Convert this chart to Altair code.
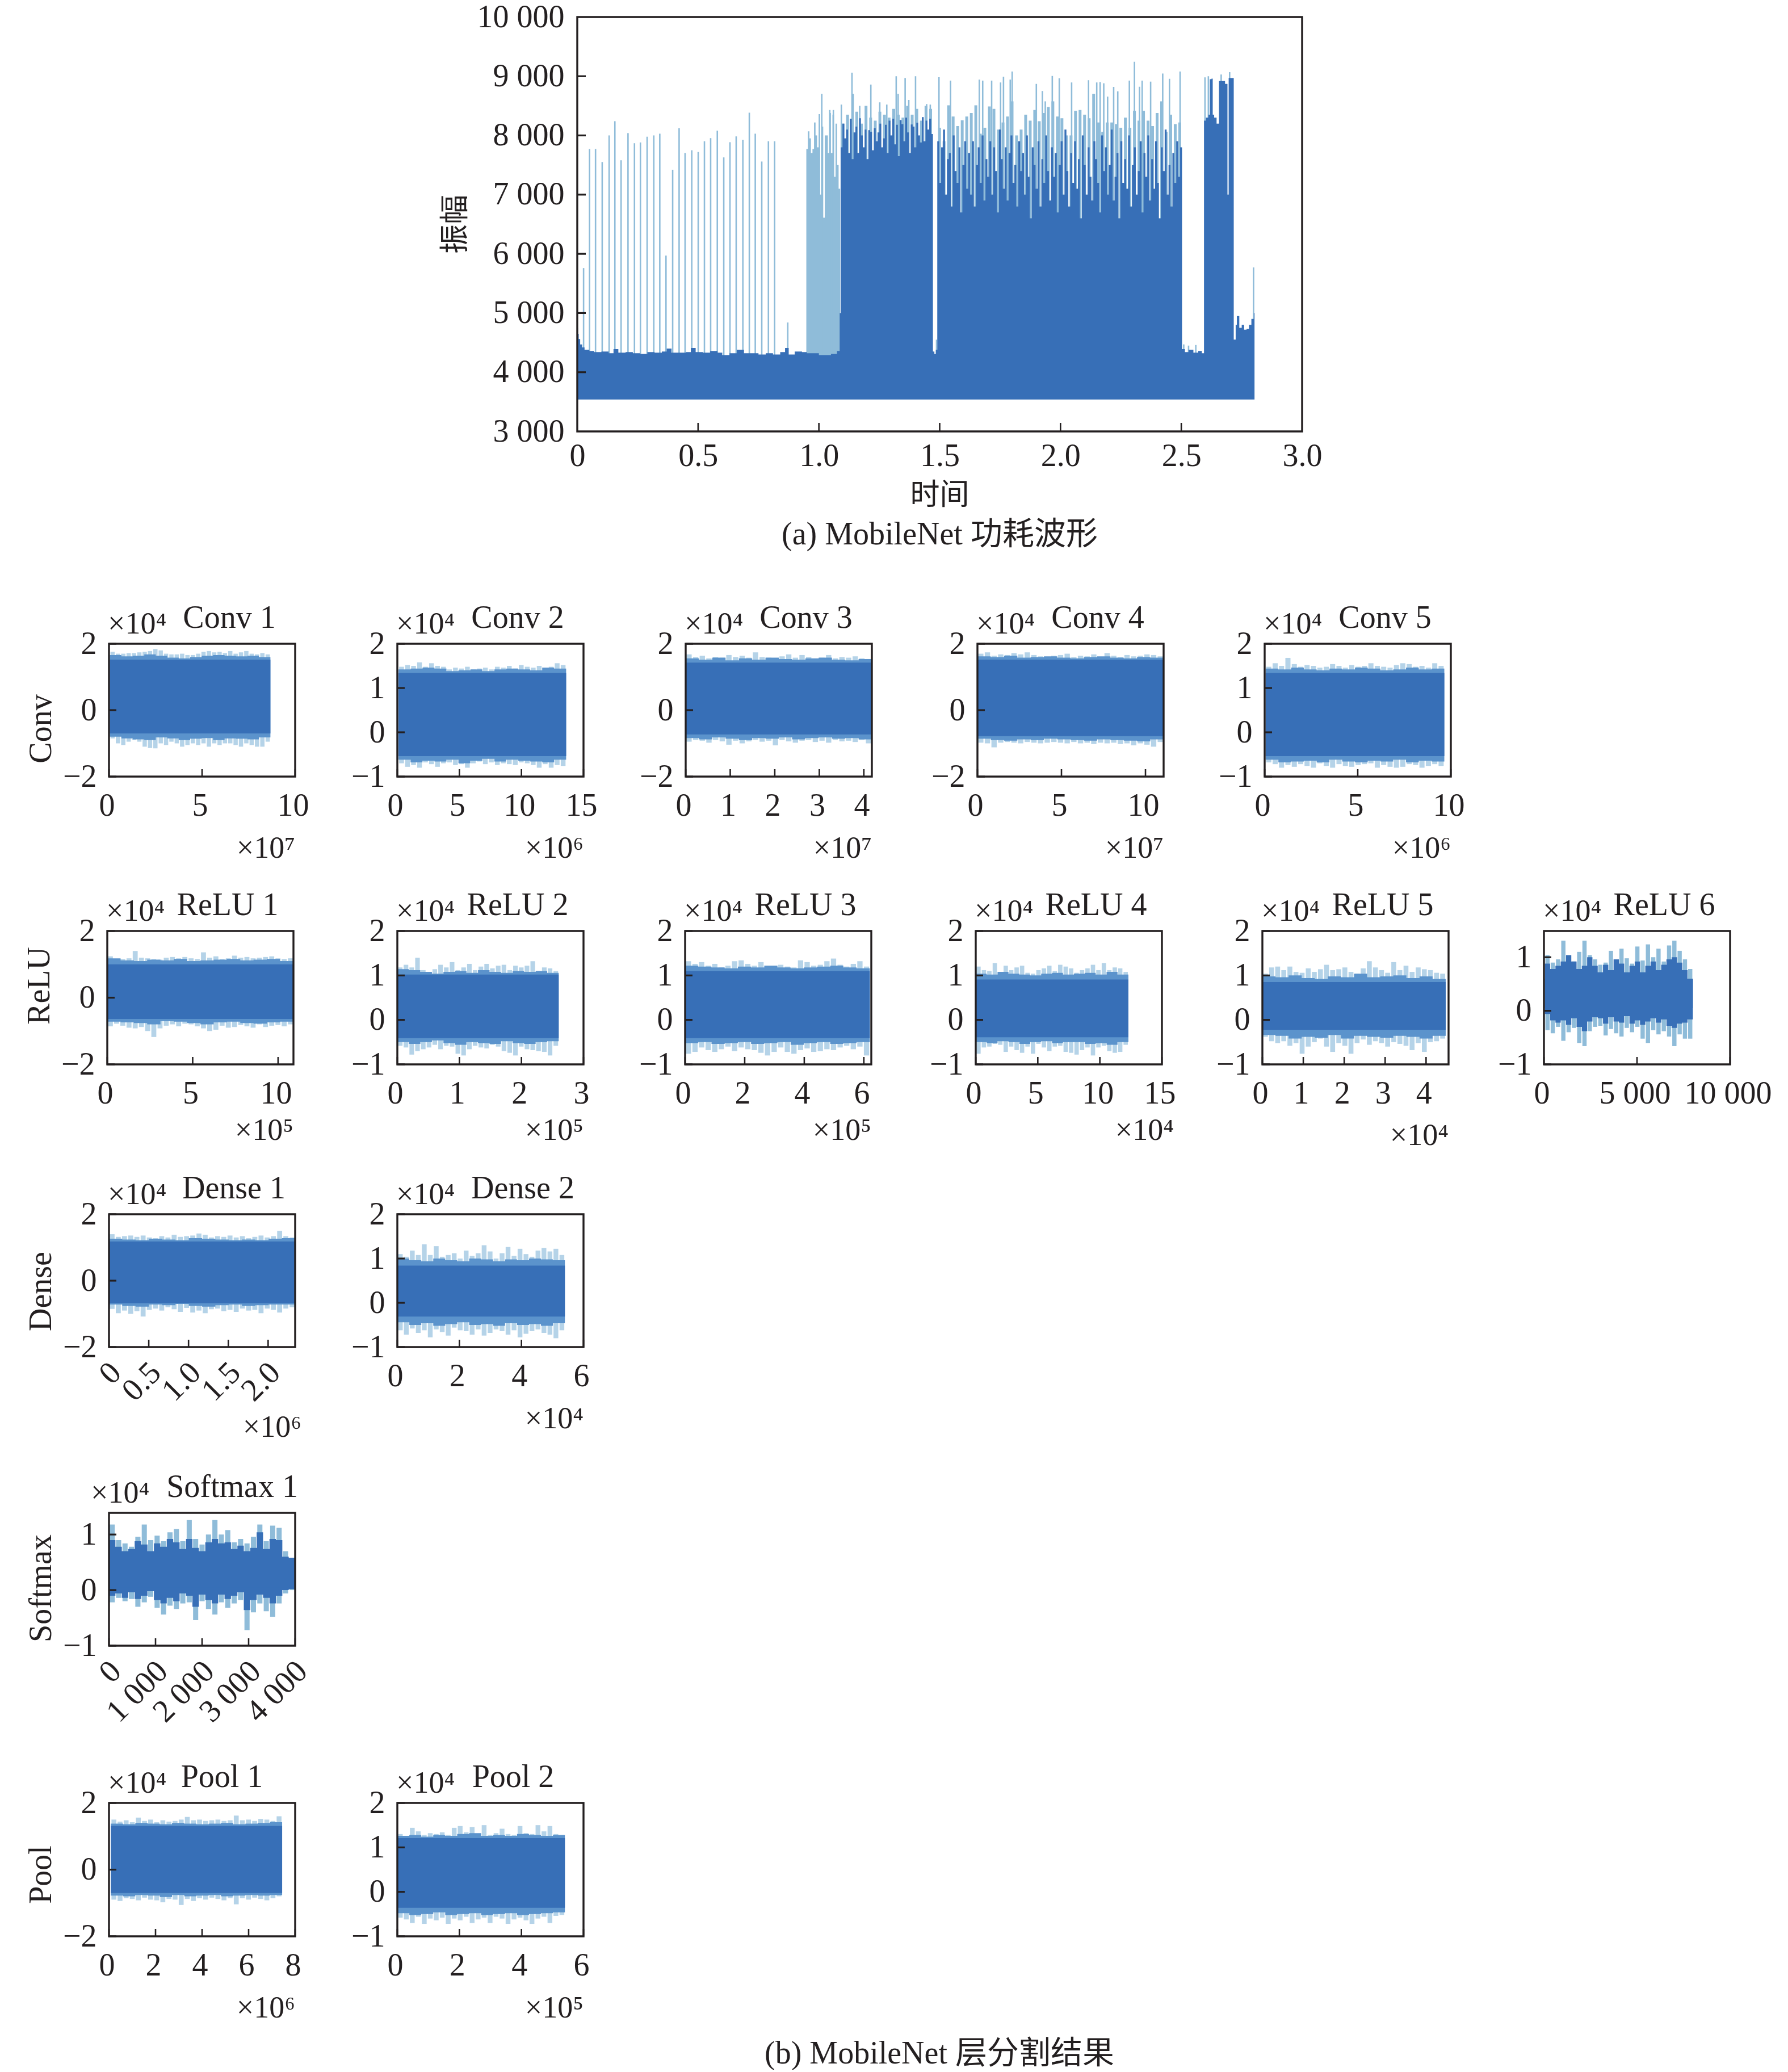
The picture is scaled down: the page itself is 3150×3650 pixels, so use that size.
import numpy as np
import pandas as pd
import altair as alt

FONT = "Liberation Serif, Noto Sans CJK SC"
DARK, MID, LIGHT, PALE = "#376FB7", "#5B93CC", "#8FBCD9", "#B5D3E8"
FS = 56

# ---------- main waveform ----------
ENV_X = [0,.003,.006,.012,.02,.03,.05,.07,.10,.13,.15,.17,.2,.23,.26,.29,.32,.35,.37,.39,.42,.45,.47,.49,.52,.55,.58,.6,.63,.66,.69,.72,.75,.78,.81,.84,.86,.875,.90,.93,.95,1.0,1.05,1.075,1.086]
ENV_TOP = [4750,4650,4560,4470,4420,4380,4360,4340,4350,4320,4390,4330,4340,4320,4310,4340,4330,4350,4400,4330,4330,4340,4410,4340,4330,4360,4330,4290,4320,4380,4320,4320,4300,4320,4300,4340,4410,4300,4350,4340,4320,4290,4310,4360,5000]
SEC_A_TOP = [7800,8200,7950,8100,7700,8280,7600,8050,8150,7700,8290,8000,7800,8100,7600,8090,8060,7750,8120,7900,8050,8200,7800,7950,8180,7700,8250,8000,8280,7850,8180,7650,8260,8190,7900,8300,8050,7700,8185,8150,7800,8215,8000,7880,8310,7900,8250,8100,8280,8025]
BAND_A_TOP = [8200,8350,8250,8400,8200,8500,8300,8250,8400,8350,8300,8450,8350,8300,8500,8350,8450,8250,8500,8450]
GAP1_X = [1.472,1.478,1.484]
GAP1_TOP = [4350,4310,4380]
GAP2_X = [2.503,2.515,2.53,2.55,2.57,2.585]
GAP2_TOP = [4390,4340,4380,4330,4360,4320]
SEC_C_X = [2.594,2.602,2.612,2.618,2.625,2.63,2.636,2.646,2.656,2.681,2.691,2.696,2.717,2.725,2.73,2.74,2.75,2.76,2.77,2.78,2.79,2.80]
SEC_C_TOP = [8250,8300,8350,8950,8960,8350,8300,8200,8920,8870,7000,8970,4550,4800,4950,4750,4800,4720,4730,4800,4900,5000]
BAND_B_TOP = [8130,7900,8510,8320,8160,8255,8320,8380,8510,8030,8130,8490,8450,8100,8220,8320,8575,8000,8100,8350,8250,8430,8240,8380,8480,8575,8320,8290,8000,8000,8415,8430,8350,8290,8700,8220,8060,8220,8220,8190,8130,8300,8130,8415,8250,8415,8250,8160,8380,8575,8060,8350,8190,8220]
STRIPES_B = [7900,7200,7800,8100,7000,7600,7700,6800,8000,7400,7200,7800,6700,7500,7900,7100,7700,7000,7900,6800,7500,7800,7200,8000,6900,7600,7300,7900,7000,7800,7400,6700,8100,7600,7100,7800,6900,7700,8000,7200,7500,6800,7900,7400,7700,7000,8000,7300,6600,7800,7500,7100,7900,6800,7600,7200,8000,7400,6900,7800,7300,7700,6700,7500,7900,7000,8100,7400,6800,7700,7200,7900,7100,7600,6600,8000,7500,7000,7800,7300,6900,7900,7600,7200,6700,8000,7400,7800,7000,7500,8100,6900,7300,7700,6600,7900,7200,7600,7100,8000,6800,7500,7800,7000,7400,7900,6700,7700,7300,8000,6900,7600,7100,7900,7200,6600,7800,7400,8100,7000,7500,6800,7700,7200,7900,7300,7800]
BLOCK_TOP = [7770,8070,7950,7700,7770,8220,8000,7800,8360,7000,8150,6610,8000,8000,7700,8380,7700,8350,7300,8200,7500,7100]
SPIKE_X = [.0261,.0508,.0756,.1032,.1319,.1556,.1813,.2100,.2367,.2614,.2891,.3167,.3415,.3672,.3948,.4215,.4462,.4739,.5006,.5263,.5520,.5796,.6063,.6320,.6577,.6854,.7121,.7367,.7636,.7911,.8168,.8712,
           1.012,1.045,1.06,1.093,1.137,1.142,1.169,1.215,1.252,1.281,1.32,1.328,1.357,1.372,1.40,1.446,1.461,1.487,
           1.497,1.545,1.664,1.678,1.715,1.752,1.764,1.792,1.800,1.900,1.925,1.937,1.966,1.995,2.046,2.116,2.150,2.164,2.179,2.195,2.220,2.237,2.285,2.306,2.327,2.338,2.373,2.423,2.451,2.495,
           2.51,2.53,2.56,2.598,2.612,2.665,2.70,2.799]
SPIKE_TOP = [5760,7770,7770,7550,8000,8240,7580,8040,7870,7880,7980,8000,8030,5970,7420,8120,7700,7750,7720,7900,7955,8080,7630,7885,7985,7925,8385,8030,7560,7900,7900,4840,
             8700,8430,8430,8520,9060,8700,8500,8860,8560,8520,9000,8700,8970,8600,9000,8530,8520,4550,
             8984,8927,8942,8927,8927,8895,8990,8942,9080,8870,8750,8575,9006,8965,8895,8933,8895,8900,8880,8655,8820,8744,8927,9246,8824,8927,8910,9045,8958,9080,
             4470,4450,4460,8980,9000,9030,9070,5770]
MAIN_XT = [0,.5,1,1.5,2,2.5,3]
MAIN_YT = [3000,4000,5000,6000,7000,8000,9000,10000]

# ---------- layer panels (values ×10^2 of the axis unit) ----------
CONV1_TOP=[176,170,170,172,172,174,176,178,184,180,170,168,168,170,166,166,170,176,178,174,176,172,178,170,174,178,170,168,172,168]
CONV1_BOT=[-85,-100,-105,-95,-90,-95,-110,-114,-115,-100,-105,-95,-100,-110,-105,-100,-105,-100,-110,-100,-105,-100,-100,-105,-110,-100,-105,-110,-110,-95]
CONV1_MT=[166,162,164,168,164,158,156,160,164,166,164,162,164,160]
CONV1_MB=[-80,-85,-88,-90,-82,-85,-90,-86,-84,-90,-85,-86,-88,-82]
CONV2_TOP=[148,152,150,158,148,156,150,148,142,146,144,148,142,144,146,142,148,146,150,144,152,148,146,150,146,148,156,152]
CONV2_BOT=[-70,-78,-74,-80,-68,-72,-78,-70,-68,-74,-72,-80,-70,-66,-72,-68,-74,-70,-72,-74,-68,-70,-74,-80,-72,-80,-74,-76]
CONV2_MT=[142,144,146,144,138,140,142,138,142,144,142,140,146,144]
CONV2_MB=[-62,-68,-64,-66,-62,-70,-64,-60,-66,-62,-64,-66,-68,-62]
CONV3_TOP=[168,160,164,156,160,158,166,160,164,158,174,160,158,156,162,168,158,166,160,154,158,166,156,160,158,162,156,154]
CONV3_BOT=[-95,-90,-92,-98,-90,-94,-104,-92,-100,-94,-90,-95,-92,-106,-90,-94,-98,-92,-90,-96,-92,-98,-90,-94,-92,-96,-90,-100]
CONV3_MT=[156,152,158,150,156,152,158,154,152,156,158,152,150,154]
CONV3_MB=[-84,-88,-82,-86,-90,-84,-86,-82,-88,-84,-82,-86,-84,-88]
CONV4_TOP=[170,174,164,168,166,172,168,174,166,162,160,164,166,170,160,164,162,168,160,172,164,160,166,162,164,168,166,162]
CONV4_BOT=[-98,-100,-112,-98,-96,-98,-100,-96,-98,-100,-98,-96,-98,-100,-96,-100,-98,-102,-98,-100,-98,-102,-100,-106,-100,-104,-110,-96]
CONV4_MT=[162,160,164,158,160,162,158,156,160,162,158,156,160,158]
CONV4_MB=[-86,-90,-92,-88,-90,-86,-88,-90,-92,-88,-90,-92,-94,-88]
CONV5_TOP=[148,156,150,168,154,148,152,150,146,148,154,150,146,152,148,150,156,150,148,146,152,156,154,148,150,146,156,150]
CONV5_BOT=[-68,-72,-80,-74,-78,-72,-76,-80,-70,-76,-80,-72,-76,-78,-74,-72,-70,-80,-74,-78,-80,-78,-72,-74,-80,-76,-72,-76]
CONV5_MT=[144,142,146,142,140,144,142,146,144,140,142,146,142,144]
CONV5_MB=[-62,-68,-66,-64,-68,-62,-66,-68,-64,-66,-62,-68,-64,-66]
RELU1_TOP=[124,116,116,118,140,120,118,116,114,120,122,118,122,118,116,136,120,124,116,118,126,120,122,118,120,122,124,118,116,118]
RELU1_BOT=[-86,-78,-84,-90,-92,-88,-100,-118,-92,-84,-80,-86,-78,-80,-86,-92,-100,-96,-84,-90,-88,-82,-86,-90,-80,-88,-84,-82,-86,-80]
RELU1_MT=[118,112,110,114,112,116,110,112,114,116,112,114,116,110]
RELU1_MB=[-72,-74,-76,-80,-70,-72,-76,-80,-74,-72,-76,-78,-74,-72]
RELU2_TOP=[118,124,118,140,112,108,114,124,118,130,112,118,126,112,120,126,116,122,124,112,122,118,122,132,110,118,116,110]
RELU2_BOT=[-58,-62,-78,-70,-66,-62,-56,-66,-58,-60,-76,-80,-66,-58,-62,-64,-56,-60,-70,-74,-80,-60,-66,-68,-70,-72,-80,-58]
RELU2_MT=[114,112,108,104,108,110,106,112,108,106,110,108,110,106]
RELU2_MB=[-50,-54,-50,-46,-52,-56,-50,-52,-54,-48,-52,-54,-50,-48]
RELU3_TOP=[132,126,130,122,126,118,122,132,134,126,122,130,122,118,124,120,118,134,130,122,124,132,138,124,120,126,132,120]
RELU3_BOT=[-76,-72,-62,-68,-72,-66,-60,-70,-62,-66,-68,-74,-80,-72,-62,-72,-76,-68,-64,-72,-70,-66,-68,-62,-58,-66,-60,-80]
RELU3_MT=[122,120,118,116,120,118,122,118,116,118,120,122,118,116]
RELU3_MB=[-52,-50,-54,-52,-50,-54,-52,-50,-56,-52,-50,-54,-52,-50]
RELU4_TOP=[120,112,110,128,106,122,112,118,122,106,104,112,116,122,110,124,120,116,106,112,116,124,112,128,112,118,116,108]
RELU4_BOT=[-76,-62,-60,-54,-56,-72,-60,-68,-74,-60,-76,-54,-62,-70,-60,-58,-72,-74,-78,-68,-62,-80,-62,-58,-70,-74,-72,-56]
RELU4_MT=[104,102,108,104,102,100,104,106,102,104,106,102,108,102]
RELU4_MB=[-50,-52,-48,-50,-54,-50,-48,-52,-50,-50,-54,-52,-56,-50]
RELU5_TOP=[104,118,120,112,120,108,106,116,108,114,124,112,114,118,108,104,116,132,118,112,106,130,112,122,108,118,114,112,106,104]
RELU5_BOT=[-38,-48,-52,-48,-58,-52,-76,-60,-50,-42,-60,-72,-52,-58,-76,-52,-44,-56,-48,-52,-60,-50,-54,-58,-68,-52,-72,-50,-48,-42]
RELU5_MT=[98,96,100,94,92,98,96,104,96,98,100,94,98,92]
RELU5_MB=[-34,-36,-42,-38,-40,-34,-42,-36,-38,-40,-36,-38,-42,-36]
RELU6_TOP=[104,90,96,131,100,92,110,131,104,96,86,90,112,94,116,98,88,120,94,124,100,116,92,122,131,112,96,78]
RELU6_BOT=[-36,-42,-30,-56,-40,-32,-60,-66,-38,-30,-28,-46,-34,-42,-48,-32,-40,-30,-52,-60,-36,-44,-38,-48,-66,-44,-52,-52]
RELU6_MT=[88,78,84,92,104,92,78,84,100,84,72,86,76,96,88,72,84,92,72,84,92,76,86,96,100,90,76,60]
RELU6_MB=[-6,-18,-22,-18,-26,-14,-30,-38,-20,-12,-14,-24,-12,-20,-22,-10,-24,-18,-26,-20,-14,-22,-16,-28,-32,-24,-22,-16]
DENSE1_TOP=[140,132,134,136,132,136,130,128,134,130,138,132,134,136,142,138,130,134,132,136,130,134,128,132,136,130,134,150,134,130]
DENSE1_BOT=[-85,-98,-90,-100,-92,-108,-88,-84,-90,-80,-86,-94,-82,-96,-90,-98,-86,-84,-92,-88,-94,-84,-90,-88,-98,-84,-88,-96,-84,-80]
DENSE1_MT=[126,124,122,126,124,122,128,126,124,122,124,122,126,128]
DENSE1_MB=[-72,-76,-78,-72,-74,-70,-76,-78,-74,-72,-76,-74,-72,-72]
DENSE2_TOP=[110,104,118,108,132,108,128,104,108,112,100,118,106,112,130,116,100,112,126,106,122,110,104,118,124,116,122,108]
DENSE2_BOT=[-62,-72,-58,-68,-62,-78,-60,-66,-74,-56,-62,-64,-72,-60,-74,-68,-60,-64,-72,-62,-78,-70,-64,-60,-68,-72,-80,-62]
DENSE2_MT=[100,96,94,100,96,94,100,98,94,98,96,100,98,96]
DENSE2_MB=[-44,-50,-46,-52,-48,-44,-50,-48,-52,-46,-50,-48,-52,-46]
SOFT_TOP=[118,90,84,78,96,118,90,98,88,104,110,88,126,92,82,100,126,100,108,86,92,84,96,118,88,116,112,70,18]
SOFT_BOT=[-22,-14,-20,-16,-30,-22,-12,-32,-44,-28,-34,-24,-22,-54,-20,-34,-44,-22,-32,-24,-18,-72,-40,-24,-38,-48,-24,-6,0]
SOFT_MT=[90,78,70,74,88,82,70,84,78,92,86,74,92,76,70,86,92,84,86,74,80,70,76,104,74,92,90,60,12]
SOFT_MB=[-10,-6,-14,-4,-16,-10,-2,-18,-24,-14,-20,-6,-10,-30,-8,-18,-24,-8,-16,-10,-4,-36,-18,-8,-14,-24,-10,0,2]
POOL1_TOP=[150,144,148,142,156,146,150,142,148,144,146,150,158,148,150,146,148,150,146,148,162,148,150,146,152,150,146,160]
POOL1_BOT=[-90,-94,-86,-88,-92,-84,-90,-92,-98,-88,-90,-106,-88,-94,-86,-90,-84,-88,-92,-86,-104,-86,-90,-84,-88,-92,-86,-80]
POOL1_MT=[138,136,140,138,136,140,138,136,138,140,136,138,140,142]
POOL1_MB=[-78,-80,-76,-78,-82,-76,-80,-78,-76,-80,-78,-76,-78,-76]
POOL2_TOP=[130,126,144,136,128,132,130,134,128,144,148,134,146,130,150,128,132,142,130,128,148,132,130,150,136,148,130,128]
POOL2_BOT=[-58,-62,-70,-56,-72,-60,-64,-58,-72,-60,-64,-56,-70,-62,-58,-70,-56,-60,-72,-62,-58,-64,-72,-60,-56,-70,-54,-52]
POOL2_MT=[126,128,124,128,126,130,132,126,128,126,130,128,126,128]
POOL2_MB=[-48,-52,-50,-46,-52,-50,-48,-52,-50,-48,-52,-50,-48,-46]

PW = 328
def P(name, xmax, xend, xt, yd, yt, core, arrs, exp=None, tx=212, er=328, eb=143, fmt="d", rot=False, lp=24,
      xstart=0.0, ex=-2, mid=MID, pale=PALE):
    return dict(name=name, xmax=xmax, xend=xend, xt=xt, yd=yd, yt=yt, core=core, arrs=arrs, exp=exp, tx=tx,
                er=er, eb=eb, fmt=fmt, rot=rot, lp=lp, xstart=xstart, ex=ex, mid=mid, pale=pale)

A, B = [-2, 2], [-1, 2]
YA, YB = [-2, 0, 2], [-1, 0, 1, 2]
ROWS = [
 (1134, 234, [192,700,1208,1722,2228], ("Conv", 33), [
  P("Conv 1", 10, 8.67, [0,5,10], A, YA, (152,-70), (CONV1_TOP,CONV1_BOT,CONV1_MT,CONV1_MB), "×10⁷", xstart=.05),
  P("Conv 2", 15, 13.6, [0,5,10,15], B, YB, (134,-54), (CONV2_TOP,CONV2_BOT,CONV2_MT,CONV2_MB), "×10⁶", xstart=.1),
  P("Conv 3", 4.18, 4.18, [0,1,2,3,4], A, YA, (143,-73), (CONV3_TOP,CONV3_BOT,CONV3_MT,CONV3_MB), "×10⁷"),
  P("Conv 4", 11.08, 11.08, [0,5,10], A, YA, (152,-78), (CONV4_TOP,CONV4_BOT,CONV4_MT,CONV4_MB), "×10⁷"),
  P("Conv 5", 10, 9.65, [0,5,10], B, YB, (134,-54), (CONV5_TOP,CONV5_BOT,CONV5_MT,CONV5_MB), "×10⁶", xstart=.05),
 ]),
 (1640, 235, [189,700,1207,1719,2224,2720], ("ReLU", -21), [
  P("ReLU 1", 10.9, 10.9, [0,5,10], A, YA, (100,-64), (RELU1_TOP,RELU1_BOT,RELU1_MT,RELU1_MB), "×10⁵", eb=133),
  P("ReLU 2", 3, 2.6, [0,1,2,3], B, YB, (102,-41), (RELU2_TOP,RELU2_BOT,RELU2_MT,RELU2_MB), "×10⁵", eb=133),
  P("ReLU 3", 6.25, 6.2, [0,2,4,6], B, YB, (110,-41), (RELU3_TOP,RELU3_BOT,RELU3_MT,RELU3_MB), "×10⁵", eb=133),
  P("ReLU 4", 15, 12.3, [0,5,10,15], B, YB, (91,-39), (RELU4_TOP,RELU4_BOT,RELU4_MT,RELU4_MB), "×10⁴", eb=133, er=349),
  P("ReLU 5", 4.55, 4.48, [0,1,2,3,4], B, YB, (85,-22), (RELU5_TOP,RELU5_BOT,RELU5_MT,RELU5_MB), "×10⁴", eb=142),
  P("ReLU 6", 10000, 8000, [0,5000,10000], [-1,1.49], [-1,0,1], (60,5), (RELU6_TOP,RELU6_BOT,RELU6_MT,RELU6_MB), None, fmt="t", xstart=50, mid=DARK, pale=LIGHT),
 ]),
 (2139, 234, [192,700], ("Dense", 19), [
  P("Dense 1", 2.34, 2.34, [0,.5,1,1.5,2], A, YA, (118,-68), (DENSE1_TOP,DENSE1_BOT,DENSE1_MT,DENSE1_MB), "×10⁶", eb=158, er=339, fmt="f", rot=True, tx=220),
  P("Dense 2", 6, 5.4, [0,2,4,6], B, YB, (84,-31), (DENSE2_TOP,DENSE2_BOT,DENSE2_MT,DENSE2_MB), "×10⁴", tx=221),
 ]),
 (2665, 234, [192], ("Softmax", 16), [
  P("Softmax 1", 4000, 4000, [0,1000,2000,3000,4000], [-1,1.39], [-1,0,1], (58,5), (SOFT_TOP,SOFT_BOT,SOFT_MT,SOFT_MB), None, fmt="t", rot=True, tx=217, ex=-32, mid=DARK, pale=LIGHT),
 ]),
 (3176, 235, [192,700], ("Pool", 9), [
  P("Pool 1", 8, 7.44, [0,2,4,6,8], A, YA, (131,-70), (POOL1_TOP,POOL1_BOT,POOL1_MT,POOL1_MB), "×10⁶", tx=199, xstart=.08),
  P("Pool 2", 6, 5.4, [0,2,4,6], B, YB, (121,-36), (POOL2_TOP,POOL2_BOT,POOL2_MT,POOL2_MB), "×10⁵", tx=204),
 ]),
]
YLAB_X = -119


def text(s, x, y, size=FS, align="left", angle=None):
    kw = dict(font=FONT, fontSize=size, align=align, baseline="alphabetic", color="#231F20")
    if angle is not None:
        kw.update(angle=angle, baseline="middle")
    return alt.Chart(pd.DataFrame({"t": [s]})).mark_text(**kw).encode(
        x=alt.value(x), y=alt.value(y), text="t:N")


def spacer(w, h):
    return alt.Chart(pd.DataFrame({"a": [0]})).mark_point(opacity=0, size=0, strokeWidth=0).encode(
        x=alt.value(0), y=alt.value(0)).properties(width=w, height=h)


def frame(W, H):
    return alt.Chart(pd.DataFrame({"a": [0]})).mark_rect(filled=False, stroke="#231F20", strokeWidth=3.4).encode(
        x=alt.value(0), x2=alt.value(W), y=alt.value(0), y2=alt.value(H))


def ticks(xs, ys, xax, yax, xt, yt, W, H, L):
    a = alt.Chart(pd.DataFrame({"x": xt})).mark_rule(color="#231F20", strokeWidth=2.6).encode(
        x=alt.X("x:Q", scale=xs, axis=xax, title=None), y=alt.value(H), y2=alt.value(H - L))
    b = alt.Chart(pd.DataFrame({"y": yt})).mark_rule(color="#231F20", strokeWidth=3.2).encode(
        y=alt.Y("y:Q", scale=ys, axis=yax, title=None), x=alt.value(0), x2=alt.value(L))
    return [a, b]


def band(xv, top, bot, color, xs, ys, xax, yax, step="step-after"):
    df = pd.DataFrame({"x": xv, "y": top, "y2": bot})
    return alt.Chart(df).mark_area(color=color, interpolate=step, opacity=1, clip=True).encode(
        x=alt.X("x:Q", scale=xs, axis=xax, title=None),
        y=alt.Y("y:Q", scale=ys, axis=yax, title=None),
        y2="y2:Q")


def rules(xv, top, bot, color, width, xs, ys, xax, yax):
    df = pd.DataFrame({"x": xv, "y": top, "y2": bot})
    return alt.Chart(df).mark_rule(color=color, strokeWidth=width, clip=True).encode(
        x=alt.X("x:Q", scale=xs, axis=xax, title=None),
        y=alt.Y("y:Q", scale=ys, axis=yax, title=None),
        y2="y2:Q")


def edges(a, b, n):
    return np.linspace(a, b, n + 1)


def stair(vals, a, b):
    """Repeat the last read value so a step area reaches the end of the trace."""
    xv = list(edges(a, b, len(vals)))
    return xv, list(vals) + [vals[-1]]


def centres(a, b, n):
    return a + (b - a) / n * (np.arange(n) + .5)


def panel(p, H, ylab=None):
    W = PW
    xs = alt.Scale(domain=[0, p["xmax"]], nice=False, zero=False)
    ys = alt.Scale(domain=p["yd"], nice=False, zero=False)
    if p["fmt"] == "t":
        expr = "replace(format(datum.value, ','), ',', ' ')"
    elif p["fmt"] == "f":
        expr = "datum.value == 0 ? '0' : format(datum.value, '.1f')"
    else:
        expr = "format(datum.value, 'd')"
    xkw = dict(values=p["xt"], ticks=False, domain=False, grid=False, labelExpr=expr, labelFont=FONT,
               labelFontSize=FS, labelColor="#231F20", labelOverlap=False, labelFlush=False)
    if p["rot"]:
        xkw.update(labelAngle=315, labelAlign="right", labelBaseline="middle", labelPadding=36, labelOffset=12)
    else:
        xkw.update(labelPadding=p["lp"], labelOffset=-4)
    xax = alt.Axis(**xkw)
    yax = alt.Axis(values=p["yt"], ticks=False, domain=False, grid=False, format="d", labelFont=FONT,
                   labelFontSize=FS, labelColor="#231F20", labelPadding=22, labelOverlap=False,
                   labelFlush=False)
    tt, tb, mt, mb = [np.array(a) / 100 for a in p["arrs"]]
    a, b = p["xstart"], p["xend"]
    x2, t2 = stair(mt, a, b)
    _, b2 = stair(mb, a, b)
    core_t, core_b = p["core"][0] / 100, p["core"][1] / 100
    xr = centres(a, b, len(tt))
    lw = 0.8 * (b - a) / len(tt) / p["xmax"] * W
    layers = [
        rules(xr, tt, [core_t] * len(tt), p["pale"], lw, xs, ys, xax, yax),
        rules(xr, tb, [core_b] * len(tb), p["pale"], lw, xs, ys, xax, yax),
        band(x2, t2, b2, p["mid"], xs, ys, xax, yax),
        band([a, b], [core_t] * 2, [core_b] * 2, DARK, xs, ys, xax, yax),
    ]
    layers += ticks(xs, ys, xax, yax, p["xt"], p["yt"], W, H, 13)
    layers.append(frame(W, H))
    layers.append(text("×10⁴", p["ex"], -18, size=54))
    layers.append(text(p["name"], p["tx"], -28, align="center"))
    if p["exp"]:
        layers.append(text(p["exp"], p["er"], H + p["eb"], align="right", size=54))
    if ylab:
        layers.append(text(ylab[0], YLAB_X, H / 2 + ylab[1], align="center", angle=270))
    return layers, W, H


def main_chart():
    W, H = 1277, 730
    xs = alt.Scale(domain=[0, 3], nice=False, zero=False)
    ys = alt.Scale(domain=[3000, 10000], nice=False, zero=False)
    xax = alt.Axis(values=MAIN_XT, ticks=False, domain=False, grid=False, labelFont=FONT, labelFontSize=FS,
                   labelColor="#231F20", labelPadding=16, labelOverlap=False, labelFlush=False,
                   labelExpr="datum.value == 0 ? '0' : format(datum.value, '.1f')")
    yax = alt.Axis(values=MAIN_YT, ticks=False, domain=False, grid=False, labelFont=FONT, labelFontSize=FS,
                   labelColor="#231F20", labelPadding=23, labelOverlap=False, labelFlush=False,
                   labelExpr="replace(format(datum.value, ','), ',', ' ')")
    sa_x = list(edges(1.09, 1.472, len(SEC_A_TOP)))[:-1]
    sb_x = list(edges(1.49, 2.503, len(STRIPES_B)))[:-1]
    env_x = ENV_X + sa_x + GAP1_X + sb_x + GAP2_X + SEC_C_X + [2.803]
    env_top = ENV_TOP + SEC_A_TOP + GAP1_TOP + STRIPES_B + GAP2_TOP + SEC_C_TOP + [5000]
    low = [3540] * len(env_x)

    bx, bt = stair(BLOCK_TOP, .948, 1.088)
    ax = centres(1.09, 1.472, len(BAND_A_TOP))
    mx = centres(1.49, 2.503, len(BAND_B_TOP))

    layers = [
        band(bx, bt, [4200] * len(bx), LIGHT, xs, ys, xax, yax),
        rules(SPIKE_X, SPIKE_TOP, [4000] * len(SPIKE_X), LIGHT, 2.6, xs, ys, xax, yax),
        rules(ax, BAND_A_TOP, [6500] * len(ax), LIGHT, 5, xs, ys, xax, yax),
        rules(mx, BAND_B_TOP, [6500] * len(mx), LIGHT, 5, xs, ys, xax, yax),
        band(env_x, env_top, low, DARK, xs, ys, xax, yax),
    ]
    layers += ticks(xs, ys, xax, yax, MAIN_XT[1:-1], MAIN_YT[1:-1], W, H, 15)
    layers.append(frame(W, H))
    layers.append(text("振幅", -214, H / 2, size=52, align="center", angle=270))
    layers.append(text("时间", W / 2, H + 129, size=52, align="center"))
    layers.append(text("(a) MobileNet 功耗波形", W / 2, H + 199, align="center"))
    return alt.layer(*layers).properties(width=W, height=H)


rows = [spacer(1, 22), alt.hconcat(spacer(1009, 1), main_chart(), spacing=0, bounds="flush")]
prev_top = 30
for top, H, lefts, ylab, panels in ROWS:
    # a nested flush row takes no height of its own, so each gap runs top to top
    rows.append(spacer(1, top - prev_top))
    items, cursor = [], 8
    for i, (left, p) in enumerate(zip(lefts, panels)):
        items.append(spacer(left - cursor, 1))
        layers, W, h = panel(p, H, ylab if i == 0 else None)
        if p["name"] == "Pool 1":
            layers.append(text("(b) MobileNet 层分割结果", 1463, H + 224, align="center"))
        items.append(alt.layer(*layers).properties(width=W, height=h))
        cursor = left + W
    rows.append(alt.hconcat(*items, spacing=0, bounds="flush"))
    prev_top = top

chart = alt.vconcat(*rows, spacing=0, bounds="flush").properties(
    padding={"left": 0, "top": -6, "right": 0, "bottom": 0}).configure_view(stroke=None)
chart.save("out.html", embed_options={"renderer": "svg", "actions": False})
